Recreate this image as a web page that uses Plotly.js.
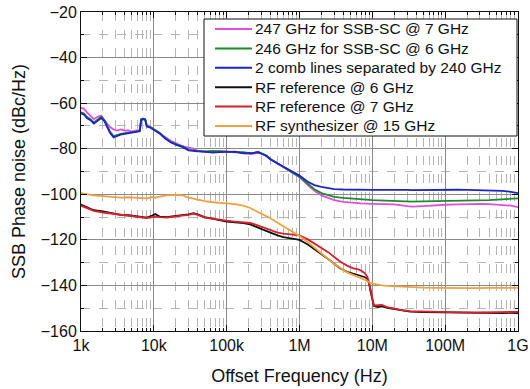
<!DOCTYPE html>
<html>
<head>
<meta charset="utf-8">
<script src="https://cdn.plot.ly/plotly-3.0.1.min.js"></script>
<style>html,body{margin:0;padding:0;background:#fff;}#chart{width:530px;height:389px;}</style>
</head>
<body>
<div id="chart"></div>
<script>
// Offset frequencies (Hz) for the optical / comb traces
const freqUpper = [1000,1100,1200,1350,1500,1700,1900,2100,2300,2500,2800,3100,3500,4000,4500,5000,5700,6400,6700,7000,7600,8000,9000,10000,12000,14000,17000,20000,25000,30000,35000,40000,50000,65000,80000,100000,130000,170000,220000,270000,300000,350000,400000,500000,600000,700000,850000,1e6,1.3e6,1.6e6,2e6,2.5e6,3e6,4e6,5e6,7e6,1e7,1.5e7,2e7,3e7,3.5e7,5e7,7e7,1e8,1.5e8,2e8,3e8,4e8,6e8,8e8,1e9];
const ssb247 = [-62,-62.5,-64,-65.5,-67,-66,-65.5,-67.5,-69,-70.5,-71.5,-72,-71.5,-72,-72,-72.5,-72,-72,-67,-66.8,-67,-69.5,-70.5,-71.5,-73,-74.5,-76.5,-77.5,-79,-79.5,-80,-81,-81.5,-81.5,-81,-81.3,-81.7,-81.8,-82.2,-81.8,-82,-83,-84.5,-86.5,-88,-89.5,-91,-92.5,-96,-98.5,-100.5,-101.8,-102.6,-103.3,-103.7,-104,-104.2,-104.3,-104.4,-105.2,-105.4,-105.2,-104.8,-104.6,-104.4,-104.2,-104.2,-104.3,-104.6,-105,-105.6];
const ssb246 = [-64,-64.5,-66,-67,-68.5,-67,-66,-67.5,-70,-72.5,-74.5,-74,-73.5,-73.2,-73,-73,-72.5,-72,-67,-66.8,-67,-70,-70.5,-71.5,-73,-75,-77,-78,-79,-80.5,-80.8,-81,-81.2,-81,-81,-81.3,-81.5,-81.5,-82,-81.3,-82,-83,-84.5,-86.5,-88,-89.5,-91,-92.3,-95.5,-97.8,-99.5,-100.5,-101.1,-101.6,-101.9,-102.3,-102.6,-102.8,-103,-103.2,-103.2,-103.1,-103,-103,-102.9,-102.8,-102.8,-102.6,-102.2,-101.8,-101.8];
const comb240 = [-64.5,-65,-66.5,-67.5,-69,-67.5,-66.5,-68,-70.5,-73,-75,-74.5,-73.8,-73.5,-73.2,-73,-72.8,-72.3,-67.5,-67,-67.3,-70.3,-70.8,-71.8,-73.3,-75.3,-77.2,-78.2,-79.3,-80.7,-81,-81.2,-81.3,-81.7,-81.5,-81.5,-81.3,-82,-82,-81.5,-82.2,-83.2,-84.7,-86.5,-88,-89.3,-90.8,-91.8,-94.5,-96,-96.8,-97.4,-97.7,-97.9,-98,-98.1,-98.1,-98.1,-98,-98.1,-98.2,-98.1,-98,-98.1,-98,-98.1,-98.2,-98.3,-98.5,-98.9,-99.5];

// Offset frequencies (Hz) for the RF traces
const freqLower = [1000,1200,1500,2000,2700,3500,4500,6000,8000,9500,10500,12000,15000,20000,25000,30000,35000,40000,50000,65000,80000,100000,130000,170000,210000,260000,300000,400000,500000,600000,800000,1e6,1.3e6,1.6e6,2e6,2.5e6,3e6,3.6e6,4.5e6,5.5e6,6.2e6,7e6,7.8e6,8.5e6,9e6,9.5e6,1.05e7,1.2e7,1.35e7,1.6e7,2e7,2.5e7,3.3e7,5e7,8e7,1.2e8,1.6e8,2.5e8,4e8,6e8,8e8,1e9];
const rf6 = [-104.5,-105.5,-107,-107.5,-108.3,-109,-109.2,-109.8,-110.2,-109.3,-108.7,-109.8,-110,-109.5,-109.2,-108.8,-108.3,-108.8,-110,-110.8,-111.4,-112,-112.3,-112.6,-113.2,-114.3,-115,-116.8,-118,-118.8,-119.5,-120,-122,-124,-126,-128.5,-130.5,-132.5,-134,-134.8,-135.3,-135.8,-136.3,-137,-139,-143,-149,-149.5,-149.2,-149.8,-150.3,-150.8,-151.5,-151.7,-151.8,-151.9,-152,-152,-152,-152.1,-152,-152.1];
const rf7 = [-105,-106,-107.3,-108,-108.5,-109,-109.5,-110,-110.4,-110,-109.8,-110,-110.2,-109.7,-109.4,-109,-108.5,-109,-110.2,-110.8,-111.2,-111.6,-112,-112.2,-112.6,-113.5,-114.2,-115.8,-116.8,-117.3,-117.8,-118,-119.8,-121.5,-123.3,-125.5,-127.5,-129.5,-131.3,-132.5,-132.8,-133.5,-134.5,-136,-138.5,-142.5,-148.8,-148.7,-148.6,-149.5,-150.2,-150.8,-151.3,-151.5,-151.6,-151.7,-151.8,-151.9,-151.8,-151.8,-151.7,-151.6];
const synth15 = [-99.5,-100,-100.5,-100.8,-101.3,-101.5,-101.3,-101.5,-101.8,-101.2,-101.5,-101,-100.5,-100.3,-100.5,-101.5,-102,-102.5,-103,-103.5,-103.6,-104,-104.3,-105,-106,-107.5,-108.5,-110.5,-112.5,-114,-116.5,-118.3,-121,-123.5,-126,-128.5,-130.5,-132.3,-134.3,-135.5,-136,-136.8,-137.5,-138.2,-138.6,-138.9,-139.3,-139.7,-140,-140.2,-140.4,-140.6,-140.9,-141,-141.1,-141.2,-141.3,-141.2,-141.1,-141.2,-141,-141.1];

const names = ["247 GHz for SSB-SC @ 7 GHz","246 GHz for SSB-SC @ 6 GHz","2 comb lines separated by 240 GHz","RF reference @ 6 GHz","RF reference @ 7 GHz","RF synthesizer @ 15 GHz"];
const colors = ["#e04ee0","#1f8a2a","#1c24c8","#111111","#d8202a","#f0a040"];

const xTickVals = [1e3,1e4,1e5,1e6,1e7,1e8,1e9];
const xTickText = ["1k","10k","100k","1M","10M","100M","1G"];

const minorX = [];
for (let d = 3; d < 9; d++) for (let m = 2; m <= 9; m++) minorX.push(m * Math.pow(10, d));

const series = [
  [freqUpper, ssb247], [freqUpper, ssb246], [freqUpper, comb240],
  [freqLower, rf6], [freqLower, rf7], [freqLower, synth15]
];
const traces = series.map((s, i) => ({
  x: s[0], y: s[1], name: names[i], type: "scatter", mode: "lines",
  line: {color: colors[i], width: 1.8}, showlegend: false
}));

// Legend box drawn in the plot area (paper coordinates from pixel positions)
const W = 530, H = 389, M = {l: 81, r: 12, t: 12, b: 58};
const pw = W - M.l - M.r, ph = H - M.t - M.b;
const px = v => (v - M.l) / pw;
const py = v => (H - M.b - v) / ph;
const shapes = [{type: "rect", xref: "paper", yref: "paper", x0: px(204), x1: px(517), y0: py(19), y1: py(136),
  fillcolor: "#fff", line: {color: "#111", width: 1}, layer: "above"}];
const annotations = [];
names.forEach((n, i) => {
  const yy = 29 + i * 19.4;
  shapes.push({type: "line", xref: "paper", yref: "paper", x0: px(215), x1: px(252), y0: py(yy), y1: py(yy),
    line: {color: colors[i], width: 2}, layer: "above"});
  annotations.push({xref: "paper", yref: "paper", x: px(253), y: py(yy), xanchor: "left", yanchor: "middle",
    text: n, showarrow: false, font: {family: "Liberation Sans, Arial, sans-serif", size: 15.5, color: "#111"}});
});

const font = {family: "Liberation Sans, Arial, sans-serif", color: "#111"};
const layout = {
  width: W, height: H,
  margin: M,
  paper_bgcolor: "#fff", plot_bgcolor: "#fff",
  font: font,
  showlegend: false,
  shapes: shapes,
  annotations: annotations,
  xaxis: {
    type: "log", range: [3, 9],
    tickmode: "array", tickvals: xTickVals, ticktext: xTickText,
    ticks: "inside", ticklen: 6, tickcolor: "#111",
    showline: true, linecolor: "#111", linewidth: 1, mirror: "allticks",
    showgrid: true, gridcolor: "#8a8a8a", gridwidth: 1,
    tickfont: {family: font.family, size: 16, color: "#111"},
    minor: {tickmode: "array", tickvals: minorX, ticks: "inside", ticklen: 3, tickcolor: "#111",
            showgrid: true, gridcolor: "#b5b5b5", griddash: "dash", gridwidth: 1},
    title: {text: "Offset Frequency (Hz)", font: {family: font.family, size: 18, color: "#111"}, standoff: 16},
    zeroline: false
  },
  yaxis: {
    range: [-160, -20], tickmode: "linear", tick0: -160, dtick: 20,
    ticks: "inside", ticklen: 6, tickcolor: "#111",
    showline: true, linecolor: "#111", linewidth: 1, mirror: "allticks",
    showgrid: true, gridcolor: "#8a8a8a", gridwidth: 1,
    tickfont: {family: font.family, size: 16, color: "#111"},
    minor: {dtick: 10, ticks: "inside", ticklen: 3, tickcolor: "#111",
            showgrid: true, gridcolor: "#b5b5b5", griddash: "dash", gridwidth: 1},
    title: {text: "SSB Phase noise (dBc/Hz)", font: {family: font.family, size: 18, color: "#111"}, standoff: 10},
    zeroline: false
  }
};
Plotly.newPlot("chart", traces, layout, {displayModeBar: false, staticPlot: true});
</script>
</body>
</html>
